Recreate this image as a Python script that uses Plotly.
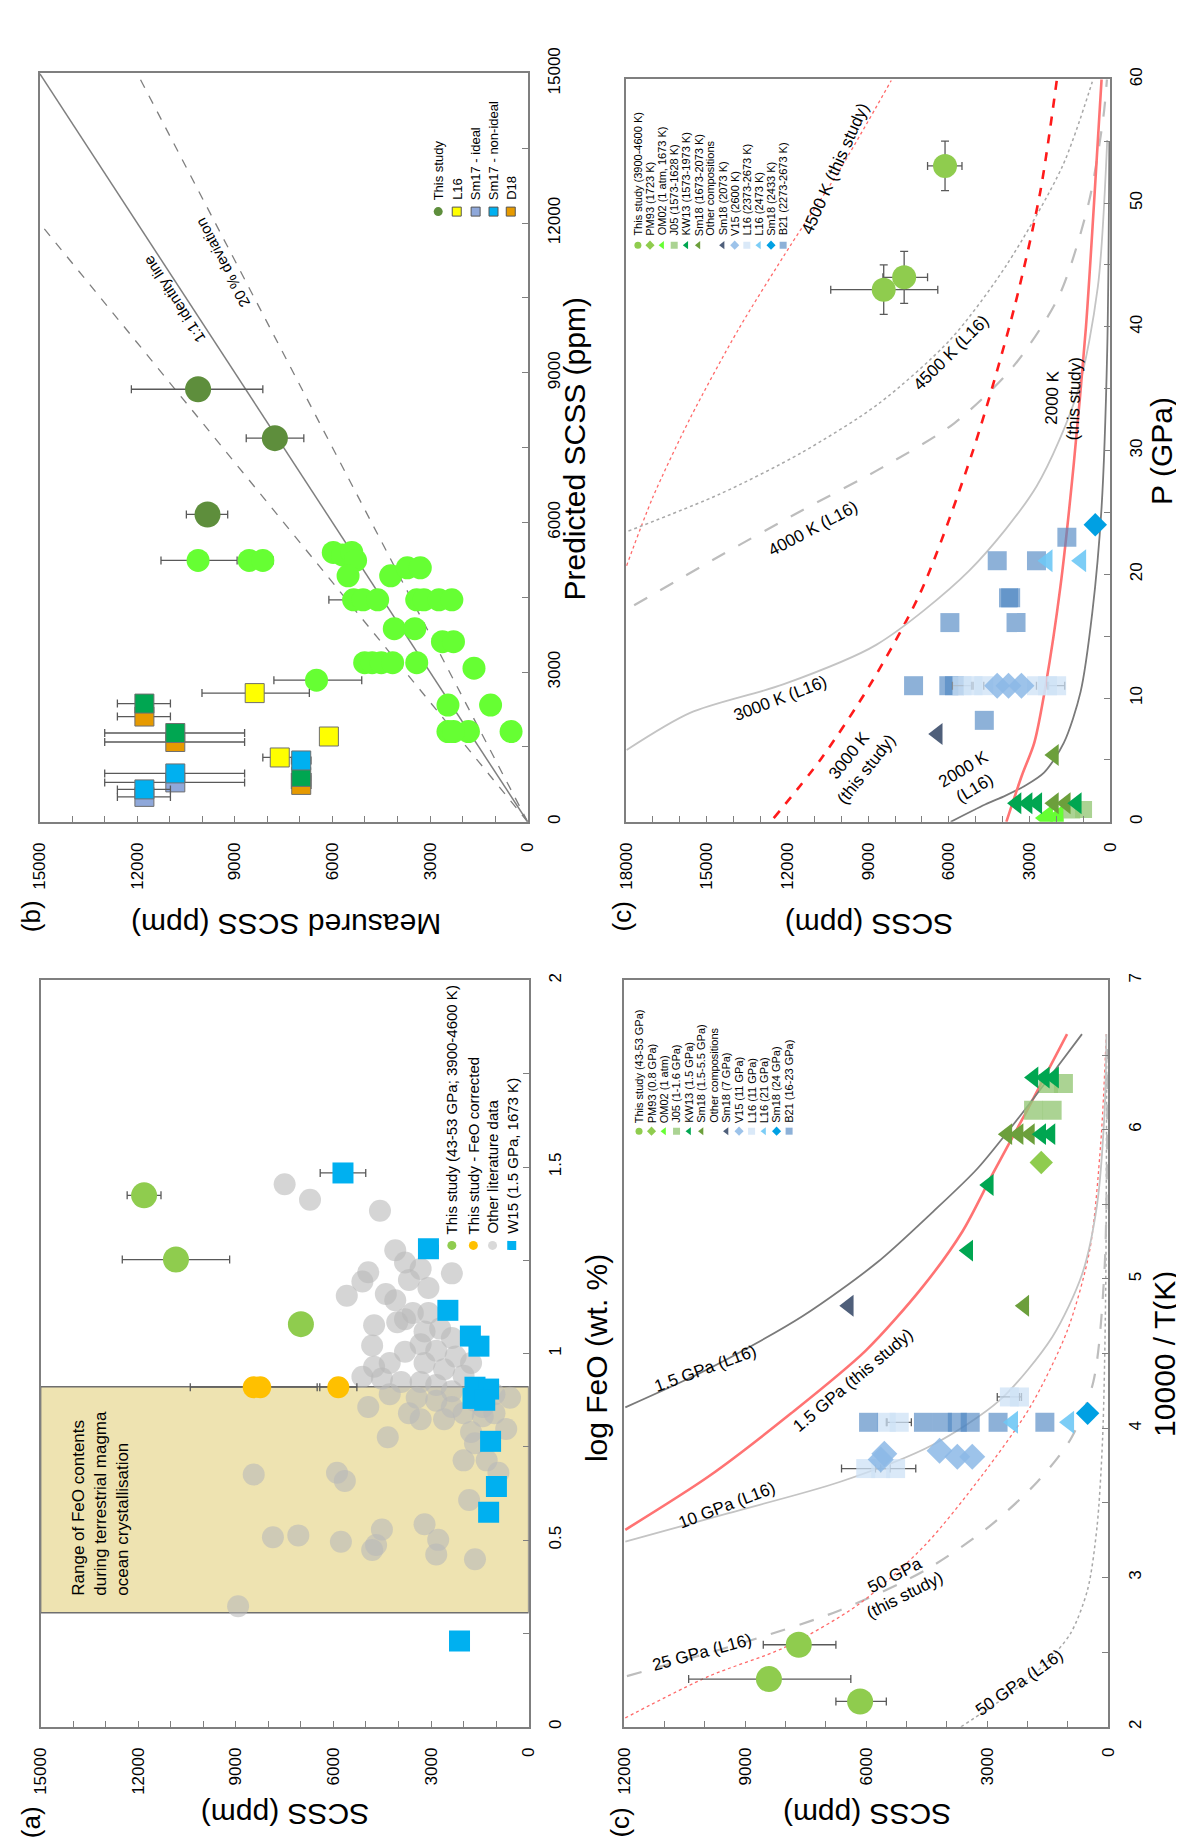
import plotly.graph_objects as go

W, H = 1184, 1841
FONT = "Liberation Sans, Arial, Helvetica, sans-serif"

# ======================= DATA =======================
# ---- Panel (b): measured vs predicted SCSS (ppm) ----
b_study_meas = [10130, 7770, 9840]
b_study_pred = [8670, 7690, 6160]
b_study_err_p = [2050, 880, 650]
b_study_err_m = [1990, 890, 620]

b_calc_meas = [10130, 8560, 8140, 5975, 5690, 5405, 5290, 5520, 4210, 3700, 3300,
               5350, 5060, 4610, 3410, 3190, 2730, 2330, 4100, 3470, 2620, 2280,
               5010, 4780, 4500, 4150, 3410, 6490, 1650, 2450, 1140, 2450, 1820, 510, 2280]
b_calc_pred = [5240, 5240, 5240, 5400, 5350, 5400, 5240, 4930, 4930, 5090, 5090,
               4450, 4450, 4450, 4450, 4450, 4450, 4450, 3870, 3870, 3610, 3610,
               3190, 3190, 3190, 3190, 3190, 2840, 3080, 2340, 2340, 1810, 1810, 1810, 1810]
b_calc_err_p = [1140, 0, 0, 0, 0, 0, 0, 0, 0, 0, 0, 760, 0, 0, 0, 0, 0, 0, 0, 0, 0, 0,
                0, 0, 0, 0, 0, 1310, 0, 0, 0, 0, 0, 0, 0]
b_calc_err_m = [1200, 0, 320, 0, 0, 0, 0, 0, 0, 0, 0, 0, 0, 0, 0, 0, 0, 0, 0, 0, 0, 0,
                0, 0, 0, 0, 0, 1390, 0, 0, 0, 0, 0, 0, 0]

b_l16_meas = [8390, 6110, 7620]
b_l16_pred = [2580, 1710, 1290]
b_l16_err_p = [1620, 0, 520]
b_l16_err_m = [1680, 0, 620]

b_d18_meas = [11780, 10830, 6960]
b_d18_pred = [2110, 1600, 740]
b_green_meas = [11780, 10830, 6960]
b_green_pred = [2370, 1780, 900]
b_sm17i_meas = [11780, 10830]
b_sm17i_pred = [500, 790]
b_sm17n_meas = [11780, 10830, 6960]
b_sm17n_pred = [650, 970, 1230]
b_sq_err_p = [830, 2170, 300]
b_sq_err_m = [800, 2130, 300]

b_line_x = [0, 15000]
b_identity_y = [0, 15000]
b_dev_low_y = [0, 12000]     # measured = 1.25 x predicted
b_dev_high_x = [0, 12000]    # measured = 0.8 x predicted
b_dev_high_y = [0, 15000]

b_leg_labels = ["This study", "L16", "Sm17 - ideal", "Sm17 - non-ideal", "D18"]
b_leg_meas = [2750, 2180, 1600, 1050, 520]

# ---- Panel (a): SCSS vs log FeO ----
a_study_scss = [11820, 10840, 7000]
a_study_feo = [1.424, 1.252, 1.079]
a_study_err = [520, 1650, 0]

a_corr_scss = [8450, 8250, 5850]
a_corr_feo = [0.91, 0.91, 0.91]
a_corr_err = [1950, 0, 570]

a_w15_scss = [5707, 3080, 2483, 1791, 1528, 1650, 1230, 1710, 1350, 1170, 991, 1230, 2125]
a_w15_feo = [1.484, 1.281, 1.116, 1.047, 1.020, 0.910, 0.905, 0.880, 0.875, 0.765, 0.644, 0.575, 0.230]
a_w15_err = [700, 300, 0, 0, 0, 0, 0, 0, 0, 0, 0, 0, 0]

a_other_scss = [7500, 6720, 4570, 4100, 2360, 3800, 3320, 4930, 5590, 4390, 4100, 3680, 3080,
                5110, 3080, 3560, 3800, 4750, 4040, 3200, 2720, 2360, 4810, 3800, 3320, 2840,
                2245, 1770, 4750, 4270, 3200, 2600, 2000, 5110, 4510, 3920, 3320, 2840, 2360,
                1650, 1050, 573, 4930, 4270, 3440, 2840, 2360, 2000, 1410, 3680, 3320, 2600,
                1770, 690, 1650, 4330, 2000, 1290, 930, 8450, 5890, 5650, 1830, 3200, 4510,
                7080, 7860, 5770, 2780, 4690, 4810, 2840, 1650, 8930, 1410, 1050]
a_other_feo = [1.454, 1.412, 1.383, 1.277, 1.215, 1.244, 1.227, 1.218, 1.155, 1.160, 1.143, 1.197,
               1.176, 1.193, 1.109, 1.109, 1.092, 1.076, 1.084, 1.059, 1.067, 1.042, 1.022, 1.005,
               1.025, 1.008, 0.992, 0.975, 0.965, 0.975, 0.975, 0.958, 0.941, 0.938, 0.933, 0.924,
               0.924, 0.916, 0.899, 0.874, 0.891, 0.882, 0.857, 0.891, 0.882, 0.874, 0.857, 0.840,
               0.832, 0.840, 0.824, 0.824, 0.790, 0.798, 0.760, 0.776, 0.714, 0.714, 0.681, 0.676,
               0.681, 0.659, 0.608, 0.543, 0.529, 0.513, 0.508, 0.496, 0.501, 0.487, 0.474, 0.462,
               0.449, 0.323, 0.857, 0.840]

a_box_feo = [0.306, 0.911]
a_leg_labels = ["This study (43-53 GPa; 3900-4600 K)", "This study - FeO corrected",
                "Other literature data", "W15 (1.5 GPa, 1673 K)"]
a_leg_scss = [2360, 1700, 1110, 520]

# ---- Panel (c, top): SCSS vs P ----
ct_study_scss = [8420, 7660, 6140]
ct_study_P = [43.0, 44.0, 53.0]
ct_study_ex_p = [1970, 790, 650]
ct_study_ex_m = [2010, 870, 630]
ct_study_ey = [2.0, 2.1, 2.0]
ct_om02_scss = [2350, 1950]
ct_om02_P = [0.3, 0.3]
ct_j05_scss = [1430, 990]
ct_j05_P = [0.95, 1.0]
ct_kw13_scss = [3480, 3070, 2710, 1240]
ct_kw13_P = [1.5, 1.5, 1.5, 1.5]
ct_sm18_scss = [2090, 1650, 2090]
ct_sm18_P = [1.5, 1.5, 5.4]
ct_sm18b_scss = [6410]
ct_sm18b_P = [7.1]
ct_v15_scss = [4200, 3780, 3300]
ct_v15_P = [11.0, 11.0, 11.0]
ct_l16a_scss = [5510, 5100, 4700, 2740, 2330, 1990]
ct_l16a_P = [11.0, 11.0, 11.0, 11.0, 11.0, 11.0]
ct_l16a_err = [350, 0, 0, 0, 0, 300]
ct_l16b_scss = [2330, 1080]
ct_l16b_P = [21.1, 21.1]
ct_sm18c_scss = [554]
ct_sm18c_P = [24.0]
ct_b21_scss = [7310, 6000, 5790, 4680, 5960, 3500, 3780, 3700, 4200, 2740, 1610]
ct_b21_P = [11.0, 11.0, 11.0, 8.2, 16.1, 16.1, 18.1, 18.1, 21.1, 21.1, 23.0]

ct_4500_this_scss = [17980, 17010, 15620, 13820, 11880, 10080, 8140]
ct_4500_this_P = [20.7, 26.2, 32.6, 39.8, 46.6, 52.6, 59.9]
ct_4500_l16_scss = [17910, 14500, 11500, 8600, 5930, 3850, 1770, 665]
ct_4500_l16_P = [23.5, 26.5, 29.8, 33.8, 39.0, 45.0, 53.0, 59.8]
ct_4000_l16_scss = [17700, 14500, 11600, 8500, 5800, 3600, 1900, 800, 250, 120]
ct_4000_l16_P = [17.5, 21.5, 25.0, 28.6, 32.2, 36.8, 42.5, 50.0, 57.0, 60.0]
ct_3000_this_scss = [12510, 10780, 8975, 7040, 5100, 3570, 2600, 1980]
ct_3000_this_P = [0.3, 5.0, 10.9, 18.6, 30.0, 41.5, 50.9, 60.0]
ct_3000_l16_scss = [17980, 15620, 12160, 8700, 5240, 2740, 1220, 460, 110]
ct_3000_l16_P = [5.8, 8.8, 11.1, 14.3, 20.3, 27.1, 34.7, 43.2, 55.1]
ct_2000_l16_scss = [5930, 4650, 3910, 3180, 2450, 1720, 1100, 665, 320, 110, 30]
ct_2000_l16_P = [0, 1.4, 2.1, 2.9, 4.0, 6.4, 10.5, 16.9, 25.4, 38.1, 55]
ct_2000_this_scss = [3860, 3290, 2820, 2400, 1850, 1350, 900, 600, 320]
ct_2000_this_P = [0, 3.7, 6.4, 11.0, 19.0, 29.0, 40.0, 50.0, 60.0]

ct_leg_labels = ["This study (3900-4600 K)", "PM93 (1723 K)", "OM02 (1 atm, 1673 K)",
                 "J05 (1573-1628 K)", "KW13 (1573-1973 K)", "Sm18 (1673-2073 K)",
                 "Other compositions", "Sm18 (2073 K)", "V15 (2600 K)", "L16 (2373-2673 K)",
                 "L16 (2473 K)", "Sm18 (2433 K)", "B21 (2273-2673 K)"]
ct_leg_scss = [17560, 17110, 16660, 16210, 15760, 15310, 14860, 14410, 13960, 13510, 13060, 12610, 12160]

# ---- Panel (c, bottom): SCSS vs 10000/T ----
cb_study_scss = [7670, 8410, 6150]
cb_study_t = [2.55, 2.32, 2.17]
cb_study_ex_p = [880, 1990, 600]
cb_study_ex_m = [920, 2030, 650]
cb_pm93_scss = [1660]
cb_pm93_t = [5.78]
cb_kw13_scss = [3470, 2960, 1850, 1570, 1340, 1660, 1430]
cb_kw13_t = [5.19, 5.63, 6.35, 6.35, 6.35, 5.97, 5.97]
cb_sm18_scss = [2500, 2220, 1940, 2080]
cb_sm18_t = [5.97, 5.97, 5.97, 4.82]
cb_j05_scss = [1850, 1390, 1480, 1110]
cb_j05_t = [6.13, 6.13, 6.31, 6.31]
cb_sm18b_scss = [6430]
cb_sm18b_t = [4.82]
cb_v15_scss = [5550, 5640, 4180, 3740, 3370]
cb_v15_t = [3.83, 3.79, 3.85, 3.81, 3.81]
cb_l16a_scss = [6010, 5640, 5270, 5500, 5180, 2450, 2200]
cb_l16a_t = [3.73, 3.73, 3.73, 4.04, 4.04, 4.21, 4.21]
cb_l16a_err = [600, 0, 500, 0, 300, 300, 0]
cb_l16b_scss = [2360, 970]
cb_l16b_t = [4.04, 4.04]
cb_sm18c_scss = [510]
cb_sm18c_t = [4.10]
cb_b21_scss = [5940, 4580, 4110, 3740, 3420, 2730, 1570]
cb_b21_t = [4.04, 4.04, 4.04, 4.04, 4.04, 4.04, 4.04]

cb_15_l16_scss = [11970, 9890, 7580, 5730, 4345, 3240, 2220, 1290, 650]
cb_15_l16_t = [4.14, 4.40, 4.75, 5.11, 5.45, 5.74, 6.08, 6.41, 6.64]
cb_15_this_scss = [11970, 9890, 7860, 6010, 4620, 3610, 2870, 2030, 1020]
cb_15_this_t = [3.32, 3.68, 4.10, 4.52, 4.94, 5.32, 5.70, 6.12, 6.64]
cb_10_l16_scss = [11970, 9430, 6660, 4345, 2680, 1390, 650, 280, 90, 45]
cb_10_l16_t = [3.24, 3.43, 3.64, 3.89, 4.19, 4.61, 5.03, 5.49, 6.12, 6.64]
cb_50_this_scss = [11970, 9890, 8040, 6190, 4530, 3140, 1940, 1020, 460, 185, 46]
cb_50_this_t = [2.06, 2.34, 2.53, 2.82, 3.22, 3.68, 4.14, 4.65, 5.19, 5.91, 6.64]
cb_25_l16_scss = [11930, 8970, 6660, 4530, 2960, 1760, 925, 370, 90, 20]
cb_25_l16_t = [2.34, 2.57, 2.78, 3.05, 3.34, 3.64, 3.93, 4.31, 5.07, 6.54]
cb_50_l16_scss = [3650, 2500, 1570, 925, 510, 277, 139, 65, 37]
cb_50_l16_t = [2.0, 2.21, 2.42, 2.63, 2.92, 3.34, 3.93, 4.86, 6.54]

cb_leg_labels = ["This study (43-53 GPa)", "PM93 (0.8 GPa)", "OM02 (1 atm)", "J05 (1-1.6 GPa)",
                 "KW13 (1.5 GPa)", "Sm18 (1.5-5.5 GPa)", "Other compositions", "Sm18 (7 GPa)",
                 "V15 (11 GPa)", "L16 (11 GPa)", "L16 (21 GPa)", "Sm18 (24 GPa)", "B21 (16-23 GPa)"]
cb_leg_scss = [11630, 11320, 11010, 10700, 10390, 10080, 9770, 9460, 9150, 8840, 8530, 8220, 7910]

# ======================= STYLE =======================
C_STUDY_DK = "#5E8E3C"
C_BRIGHT = "#66FF33"
C_STUDY = "#8FCC4E"
C_ORANGE = "#FFC000"
C_CYAN = "#00B0F0"
C_GREY = "rgba(185,185,185,0.6)"
C_YELLOW = "#FFFF00"
C_LAV = "#8FA8DA"
C_D18 = "#E69A00"
C_GREEN = "#00A651"
C_OLIVE = "#6C9F3C"
C_J05 = "rgba(150,200,120,0.8)"
C_SLATE = "#4F5F7A"
C_V15 = "rgba(140,185,230,0.85)"
C_L16A = "rgba(205,225,245,0.75)"
C_L16B = "rgba(110,200,245,0.9)"
C_SM18C = "#00A0E3"
C_B21 = "rgba(80,135,195,0.65)"
FRAME = "#7F7F7F"
ERR = "#595959"

# panel frames in pixels: (left, right, top, bottom)
P_B = (23, 519, 40, 800)
P_CT = (619, 1111, 46, 800)
P_A = (24, 520, 961, 1719)
P_CB = (617, 1109, 961, 1719)


def dom_x(p):
    return [p[0] / W, p[1] / W]


def dom_y(p):
    return [1 - p[3] / H, 1 - p[2] / H]


fig = go.Figure()


def pts(ax, x, y, color, symbol="circle", size=20, line=None, ex=None, exm=None, ey=None, eym=None):
    kw = dict(x=x, y=y, mode="markers", xaxis="x" + ax, yaxis="y" + ax, showlegend=False,
              hoverinfo="skip",
              marker=dict(color=color, symbol=symbol, size=size,
                          line=line if line else dict(width=0)))
    if ex is not None:
        kw["error_x"] = dict(type="data", array=ex, arrayminus=exm if exm is not None else ex,
                             color=ERR, thickness=1.3, width=4)
    if ey is not None:
        kw["error_y"] = dict(type="data", array=ey, arrayminus=eym if eym is not None else ey,
                             color=ERR, thickness=1.3, width=4)
    fig.add_trace(go.Scatter(**kw))


def curve(ax, x, y, color, width=1.5, dash="solid", spline=True):
    fig.add_trace(go.Scatter(x=x, y=y, mode="lines", xaxis="x" + ax, yaxis="y" + ax,
                             showlegend=False, hoverinfo="skip",
                             line=dict(color=color, width=width, dash=dash,
                                       shape="spline" if spline else "linear", smoothing=0.8)))


annotations = []


def ann(text, x, y, ax=None, angle=-90, size=17, xanchor="center", yanchor="middle", align="center"):
    d = dict(text=text, x=x, y=y, textangle=angle, showarrow=False, xanchor=xanchor,
             yanchor=yanchor, align=align, font=dict(size=size, family=FONT, color="black"))
    if ax is None:
        d.update(xref="paper", yref="paper", x=x / W, y=1 - y / H)
    else:
        d.update(xref="x" + ax, yref="y" + ax)
    annotations.append(d)


# ---------------- Panel (b) -> axes "" ----------------
curve("", b_line_x, b_identity_y, FRAME, 1.5, "solid", False)
curve("", b_line_x, b_dev_low_y, FRAME, 1.3, "dash", False)
curve("", b_dev_high_x, b_dev_high_y, FRAME, 1.3, "dash", False)
pts("", b_calc_meas, b_calc_pred, C_BRIGHT, size=23, ex=b_calc_err_p, exm=b_calc_err_m)
pts("", b_study_meas, b_study_pred, C_STUDY_DK, size=26, ex=b_study_err_p, exm=b_study_err_m)
sq_line = dict(color="#6F6F6F", width=1)
pts("", b_l16_meas, b_l16_pred, C_YELLOW, "square", 19, sq_line, ex=b_l16_err_p, exm=b_l16_err_m)
pts("", b_d18_meas, b_d18_pred, C_D18, "square", 19, sq_line, ex=b_sq_err_p, exm=b_sq_err_m)
pts("", b_green_meas, b_green_pred, C_GREEN, "square", 19, sq_line, ex=b_sq_err_p, exm=b_sq_err_m)
pts("", b_sm17i_meas, b_sm17i_pred, C_LAV, "square", 19, sq_line, ex=b_sq_err_p[:2], exm=b_sq_err_m[:2])
pts("", b_sm17n_meas, b_sm17n_pred, C_CYAN, "square", 19, sq_line, ex=b_sq_err_p, exm=b_sq_err_m)
# legend (b)
b_leg_colors = [C_STUDY_DK, C_YELLOW, C_LAV, C_CYAN, C_D18]
b_leg_sym = ["circle", "square", "square", "square", "square"]
for lab, m, c, s in zip(b_leg_labels, b_leg_meas, b_leg_colors, b_leg_sym):
    pts("", [m], [12230], c, s, 9, None if s == "circle" else dict(color="#555555", width=1))
    ann(lab, m, 12420, "", -90, 13, "center", "bottom")
ann("1:1 identity line", 10870, 10470, "", -123, 15)
ann("20 % deviation", 9390, 11200, "", -118, 15)

# ---------------- Panel (c top) -> axes "2" ----------------
curve("2", ct_4500_this_scss, ct_4500_this_P, "#FF6A6A", 1.3, "dot")
curve("2", ct_4500_l16_scss, ct_4500_l16_P, "#A8A8A8", 1.5, "dot")
curve("2", ct_4000_l16_scss, ct_4000_l16_P, "#BDBDBD", 2.2, "longdash")
curve("2", ct_3000_this_scss, ct_3000_this_P, "#FF1A1A", 2.6, "dash")
curve("2", ct_3000_l16_scss, ct_3000_l16_P, "#C4C4C4", 1.8)
curve("2", ct_2000_l16_scss, ct_2000_l16_P, "#7A7A7A", 1.8)
curve("2", ct_2000_this_scss, ct_2000_this_P, "#FF7373", 2.6)
pts("2", ct_b21_scss, ct_b21_P, C_B21, "square", 19)
pts("2", ct_l16a_scss, ct_l16a_P, C_L16A, "square", 19, ex=ct_l16a_err)
pts("2", ct_v15_scss, ct_v15_P, C_V15, "diamond", 20)
pts("2", ct_l16b_scss, ct_l16b_P, C_L16B, "triangle-left", 20)
pts("2", ct_sm18c_scss, ct_sm18c_P, C_SM18C, "diamond", 18)
pts("2", ct_sm18b_scss, ct_sm18b_P, C_SLATE, "triangle-left", 19)
pts("2", ct_om02_scss, ct_om02_P, C_BRIGHT, "triangle-left", 24)
pts("2", ct_j05_scss, ct_j05_P, C_J05, "square", 17)
pts("2", ct_sm18_scss, ct_sm18_P, C_OLIVE, "triangle-left", 19)
pts("2", ct_kw13_scss, ct_kw13_P, C_GREEN, "triangle-left", 19)
pts("2", ct_study_scss, ct_study_P, C_STUDY, size=24, ex=ct_study_ex_p, exm=ct_study_ex_m, ey=ct_study_ey)
ct_leg_colors = [C_STUDY, C_STUDY, C_BRIGHT, C_J05, C_GREEN, C_OLIVE, None, C_SLATE, C_V15,
                 C_L16A, C_L16B, C_SM18C, C_B21]
ct_leg_sym = ["circle", "diamond", "triangle-left", "square", "triangle-left", "triangle-left", None,
              "triangle-left", "diamond", "square", "triangle-left", "diamond", "square"]
for lab, s, c, sy in zip(ct_leg_labels, ct_leg_scss, ct_leg_colors, ct_leg_sym):
    if c is not None:
        pts("2", [s], [46.6], c, sy, 7)
    ann(lab, s, 47.2, "2", -90, 11, "center", "bottom")
ann("4500 K (this study)", 10220, 52.8, "2", -66, 17)
ann("4500 K (L16)", 5900, 37.9, "2", -45, 17)
ann("4000 K (L16)", 11040, 23.7, "2", -28, 17)
ann("3000 K (L16)", 12270, 10.0, "2", -21, 17)
ann("3000 K<br>(this study)", 9390, 4.8, "2", -52, 17)
ann("2000 K<br>(L16)", 5235, 3.5, "2", -31, 17)
ann("2000 K<br>(this study)", 1745, 34.2, "2", -88, 17)

# ---------------- Panel (a) -> axes "3" ----------------
pts("3", a_other_scss, a_other_feo, C_GREY, size=22)
pts("3", a_corr_scss, a_corr_feo, C_ORANGE, size=22, ex=a_corr_err)
pts("3", a_study_scss, a_study_feo, C_STUDY, size=26, ex=a_study_err)
pts("3", a_w15_scss, a_w15_feo, C_CYAN, "square", 21, ex=a_w15_err)
a_leg_colors = [C_STUDY, C_ORANGE, "#D9D9D9", C_CYAN]
a_leg_sym = ["circle", "circle", "circle", "square"]
for lab, s, c, sy in zip(a_leg_labels, a_leg_scss, a_leg_colors, a_leg_sym):
    pts("3", [s], [1.29], c, sy, 9)
    ann(lab, s, 1.315, "3", -90, 15, "center", "bottom")
ann("Range of FeO contents<br>during terrestrial magma<br>ocean crystallisation",
    13170, 0.345, "3", -90, 17, "center", "bottom", "left")

# ---------------- Panel (c bottom) -> axes "4" ----------------
curve("4", cb_50_l16_scss, cb_50_l16_t, "#A8A8A8", 1.5, "dot")
curve("4", cb_25_l16_scss, cb_25_l16_t, "#BDBDBD", 2.2, "longdash")
curve("4", cb_50_this_scss, cb_50_this_t, "#FF6A6A", 1.3, "dot")
curve("4", cb_10_l16_scss, cb_10_l16_t, "#C4C4C4", 1.8)
curve("4", cb_15_this_scss, cb_15_this_t, "#FF7373", 2.6)
curve("4", cb_15_l16_scss, cb_15_l16_t, "#7A7A7A", 1.8)
pts("4", cb_l16a_scss, cb_l16a_t, C_L16A, "square", 19, ex=cb_l16a_err)
pts("4", cb_b21_scss, cb_b21_t, C_B21, "square", 19)
pts("4", cb_v15_scss, cb_v15_t, C_V15, "diamond", 20)
pts("4", cb_l16b_scss, cb_l16b_t, C_L16B, "triangle-left", 20)
pts("4", cb_sm18c_scss, cb_sm18c_t, C_SM18C, "diamond", 18)
pts("4", cb_sm18b_scss, cb_sm18b_t, C_SLATE, "triangle-left", 19)
pts("4", cb_j05_scss, cb_j05_t, C_J05, "square", 19)
pts("4", cb_sm18_scss, cb_sm18_t, C_OLIVE, "triangle-left", 19)
pts("4", cb_kw13_scss, cb_kw13_t, C_GREEN, "triangle-left", 19)
pts("4", cb_pm93_scss, cb_pm93_t, C_STUDY, "diamond", 18)
pts("4", cb_study_scss, cb_study_t, C_STUDY, size=26, ex=cb_study_ex_p, exm=cb_study_ex_m)
for lab, s, c, sy in zip(cb_leg_labels, cb_leg_scss, ct_leg_colors, ct_leg_sym):
    if c is not None:
        pts("4", [s], [5.99], c, sy, 7)
    ann(lab, s, 6.03, "4", -90, 11, "center", "bottom")
ann("1.5 GPa (L16)", 9970, 4.40, "4", -20, 17)
ann("1.5 GPa (this study)", 6330, 4.32, "4", -40, 17)
ann("10 GPa (L16)", 9460, 3.48, "4", -21, 17)
ann("50 GPa<br>(this study)", 5180, 2.95, "4", -27, 17)
ann("25 GPa (L16)", 10080, 2.50, "4", -15, 17)
ann("50 GPa (L16)", 2200, 2.30, "4", -35, 17)

# ---------------- titles / panel letters ----------------
TS = 30
ann("Measured SCSS (ppm)", 274, 905, None, 180, TS)
ann("Predicted SCSS (ppm)", 567, 421, None, -90, TS)
ann("SCSS (ppm)", 866, 905, None, 180, TS)
ann("P (GPa)", 1163, 423, None, -90, TS)
ann("SCSS (ppm)", 273, 1808, None, 180, TS)
ann("log FeO (wt. %)", 589, 1345, None, -90, TS)
ann("SCSS (ppm)", 864, 1808, None, 180, TS)
ann("10000 / T(K)", 1166, 1340, None, -90, TS)
ann("(b)", 15, 896, None, -90, 26)
ann("(c)", 615, 896, None, -90, 26)
ann("(a)", 15, 1816, None, -90, 26)
ann("(c)", 613, 1816, None, -90, 26)

# shapes: FeO box in panel (a)
shapes = [dict(type="rect", xref="x3", yref="y3", x0=15000, x1=0, y0=a_box_feo[0], y1=a_box_feo[1],
               fillcolor="#EEE3B1", line=dict(color="#6F6F6F", width=1.5), layer="below")]


def scss_axis(p, rng, anchor):
    return dict(domain=dom_x(p), range=rng, anchor=anchor, tick0=0, dtick=3000, tickformat="d",
                ticks="inside", ticklen=6, tickwidth=1.2, tickcolor=FRAME,
                minor=dict(tick0=0, dtick=1000, ticks="inside", ticklen=6, tickwidth=1.2, tickcolor=FRAME),
                showline=True, mirror=True, linecolor=FRAME, linewidth=1.8,
                showgrid=False, zeroline=False, tickangle=-90, ticklabelstandoff=12,
                tickfont=dict(size=17, family=FONT, color="black"))


def side_axis(p, rng, anchor, dtick, minor):
    return dict(domain=dom_y(p), range=rng, anchor=anchor, side="right", tick0=0, dtick=dtick,
                ticks="inside", ticklen=6, tickwidth=1.2, tickcolor=FRAME,
                minor=dict(tick0=0, dtick=minor, ticks="inside", ticklen=6, tickwidth=1.2, tickcolor=FRAME),
                showline=True, mirror=True, linecolor=FRAME, linewidth=1.8,
                showgrid=False, zeroline=False, tickangle=-90, ticklabelstandoff=10,
                tickfont=dict(size=17, family=FONT, color="black"))


fig.update_layout(
    width=W, height=H, margin=dict(l=0, r=0, t=0, b=0),
    paper_bgcolor="white", plot_bgcolor="white", showlegend=False,
    xaxis=scss_axis(P_B, [15000, 0], "y"),
    yaxis=side_axis(P_B, [0, 15000], "x", 3000, 1500) | dict(tickformat="d"),
    xaxis2=scss_axis(P_CT, [18000, 0], "y2"),
    yaxis2=side_axis(P_CT, [0, 60], "x2", 10, 5),
    xaxis3=scss_axis(P_A, [15000, 0], "y3"),
    yaxis3=side_axis(P_A, [0, 2], "x3", 0.5, 0.25),
    xaxis4=scss_axis(P_CB, [12000, 0], "y4"),
    yaxis4=side_axis(P_CB, [2, 7], "x4", 1, 0.5),
    annotations=annotations, shapes=shapes,
)

fig.write_html("out.html")
